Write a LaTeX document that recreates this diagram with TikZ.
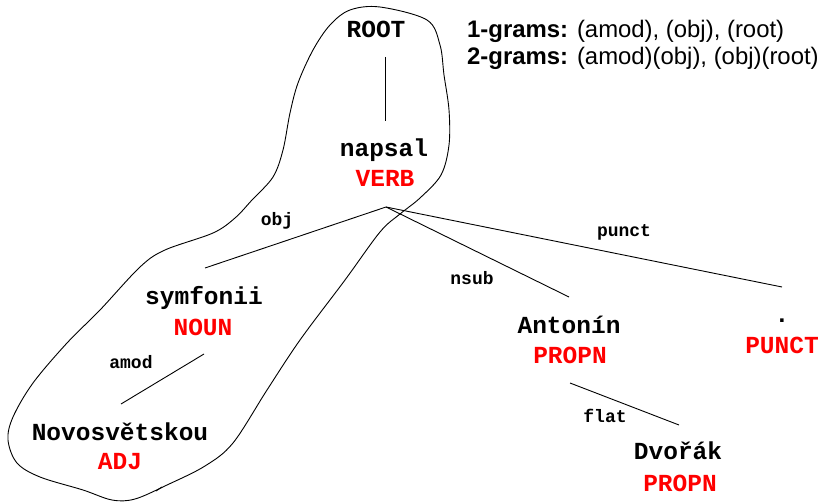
\documentclass[tikz,border=0pt]{standalone}
\usepackage{fontspec}
\setmainfont{Liberation Sans}
\newfontfamily\tokfont{Liberation Mono}
\tikzset{
  x=1pt, y=-1pt,
  word/.style={anchor=base, inner sep=0pt, font=\tokfont\bfseries\fontsize{24.5}{28}\selectfont},
  tag/.style={word, text={rgb,255:red,255;green,0;blue,0}},
  rel/.style={anchor=base, inner sep=0pt, font=\tokfont\bfseries\fontsize{18}{22}\selectfont},
  dep/.style={draw=black, line width=0.9pt},
  blob/.style={draw=black, line width=0.9pt},
  gram/.style={anchor=base west, inner sep=0pt, font=\fontsize{23.9}{27}\selectfont}
}
\begin{document}
\begin{tikzpicture}
\useasboundingbox (0,0) rectangle (821,502);

% tokens and their part-of-speech tags
\node[word] (root) at (376,38) {ROOT};
\node[word] (napsal) at (384,157) {napsal};
\node[tag]  (verb) at (385,187) {VERB};
\node[word] (symfonii) at (204,305) {symfonii};
\node[tag]  (noun) at (203,335) {NOUN};
\node[word] (novo) at (120,440) {Novosvětskou};
\node[tag]  (adj) at (120,469) {ADJ};
\node[word] (antonin) at (569,333) {Antonín};
\node[tag]  (propn1) at (570,363) {PROPN};
\node[word] (dvorak) at (678,459) {Dvořák};
\node[tag]  (propn2) at (680,491) {PROPN};
\node[word] (dot) at (782,323) {.};
\node[tag]  (punctag) at (782,353) {PUNCT};

% relation labels
\node[rel] (lobj) at (277,226) {obj};
\node[rel] (lnsub) at (472,285) {nsub};
\node[rel] (lpunct) at (624,237) {punct};
\node[rel] (lamod) at (131,368) {amod};
\node[rel] (lflat) at (605,422) {flat};

% attachment points of the arcs
\coordinate (rootfoot) at (385,57);
\coordinate (napsalhead) at (385,121);
\coordinate (hub) at (386,207);
\coordinate (symfhead) at (205,268);
\coordinate (antonhead) at (569,297);
\coordinate (puncthead) at (782,287);
\coordinate (symffoot) at (204,354);
\coordinate (novohead) at (121,404);
\coordinate (antonfoot) at (570,383);
\coordinate (dvorakhead) at (679,425);

\draw[dep] (rootfoot) -- (napsalhead);
\draw[dep] (hub) -- (symfhead);
\draw[dep] (hub) -- (antonhead);
\draw[dep] (hub) -- (puncthead);
\draw[dep] (symffoot) -- (novohead);
\draw[dep] (antonfoot) -- (dvorakhead);

% n-gram summary
\node[gram] (g1) at (467,38) {\textbf{1-grams:} (amod), (obj), (root)};
\node[gram] (g2) at (467,65) {\textbf{2-grams:} (amod)(obj), (obj)(root)};

% hand-drawn outline around the extracted path
\draw[blob] plot[smooth cycle, tension=0.55] coordinates {
  (380,7) (427,20) (440,45) (444,75) (449,110) (449,145) (441,175)
  (420,198) (400,214) (380,232) (345,280) (300,340) (267,390)
  (233,443) (205,466) (167,485) (135,499) (112,500) (83,490)
  (40,477) (17,463) (8,440) (13,417) (33,383) (67,343) (100,310)
  (140,267) (165,250) (213,233) (235,218) (252,200) (273,177)
  (283,150) (290,113) (298,83) (313,50) (330,25) (350,10)};
\draw[blob] (162,487) -- (156,491);
\end{tikzpicture}
\end{document}
